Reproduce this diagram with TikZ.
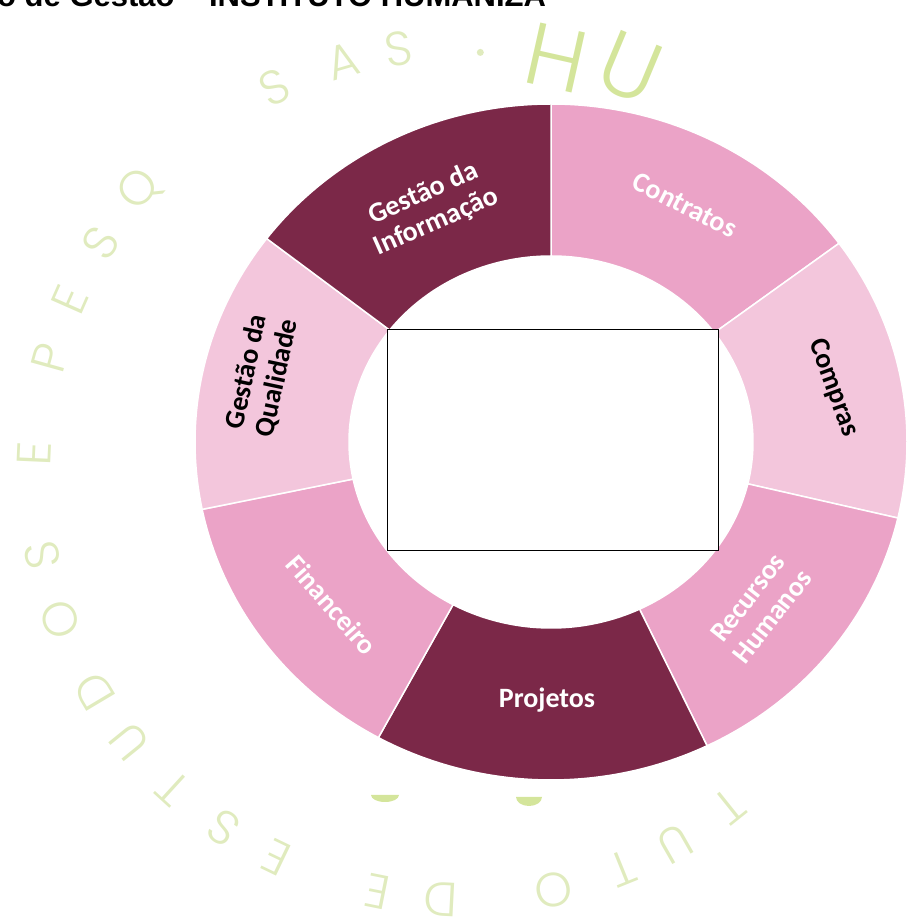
\documentclass[tikz,border=0pt]{standalone}
\usepackage{fontspec}
\setmainfont{Liberation Sans}
\newfontfamily\rotfont{Carlito}
\newfontfamily\wmfont{Poppins}[UprightFont={* Light}]
\usetikzlibrary{positioning}
\definecolor{Vinho}{RGB}{123,40,72}
\definecolor{Rosa}{RGB}{235,163,199}
\definecolor{RosaClaro}{RGB}{243,198,220}
\definecolor{VerdeMarca}{RGB}{212,229,155}
\definecolor{VerdeClaro}{RGB}{224,235,190}

\begin{document}
\begin{tikzpicture}[
  x=1pt, y=1pt,
  fatia/.style={draw=white, line width=1.5pt},
  rotulo/.style={font=\rotfont\bfseries\fontsize{28}{31}\selectfont, align=center, text=white},
  rotuloesc/.style={rotulo, text=black},
  letra/.style={font=\wmfont\fontsize{48}{48}\selectfont, text=VerdeClaro, inner sep=0pt},
  letragrande/.style={letra, font=\wmfont\fontsize{88}{88}\selectfont, text=VerdeMarca}
]
  \useasboundingbox (0,0) rectangle (910,924);

  % titulo (cortado no topo)
  \node[anchor=base west, inner sep=0pt, font=\bfseries\fontsize{31}{31}\selectfont] (titulo) at (-3,917) {o de Gestão – INSTITUTO HUMANIZA};

  % marca d'agua
  \coordinate (marca) at (462,452);
  \foreach \ang/\ch [count=\i] in {308.7/T, 299.8/U, 292.0/T, 282.4/O, 267.1/D, 258.6/E,
      244.3/E, 236.2/S, 227.6/T, 219.0/U, 210.8/D, 200.2/O, 191.2/S, 177.5/E,
      164.5/P, 156.2/E, 147.7/S, 138.8/Q, 116.0/S, 106.2/A, 98.5/S}
    \node[letra, rotate=\ang-90] (wm\i) at ([shift={(marca)}]\ang:428) {\ch};
  \fill[VerdeClaro] ([shift={(marca)}]87.5:420) circle[radius=3.5];
  \node[letragrande, rotate=-12.6] (wmH) at ([shift={(marca)}]77.2:425) {H};
  \node[letragrande, rotate=-22.6] (wmU) at ([shift={(marca)}]67.4:438) {U};
  \fill[VerdeMarca] (371,129) arc[start angle=180, end angle=360, x radius=14, y radius=7] -- cycle;
  \fill[VerdeMarca] (516,127) arc[start angle=180, end angle=360, x radius=13, y radius=9] -- cycle;

  % anel
  \coordinate (meio) at (551,482);
  \foreach \ai/\af/\cor in {36/90/Rosa, -13/36/RosaClaro, -64/-13/Rosa, -119/-64/Vinho,
      -168.5/-119/Rosa, 143/191.5/RosaClaro, 90/143/Vinho}
    \filldraw[fatia, fill=\cor] ([shift={(meio)}]\ai:356 and 338)
      arc[start angle=\ai, end angle=\af, x radius=356, y radius=338]
      -- ([shift={(meio)}]\af:202 and 186)
      arc[start angle=\af, end angle=\ai, x radius=202, y radius=186] -- cycle;

  \node[rotulo, rotate=24] (info) at (430,716) {Gestão da\\Informação};
  \node[rotulo, rotate=-27] (contratos) at (685,719) {Contratos};
  \node[rotuloesc, rotate=-70] (compras) at (833,536) {Compras};
  \node[rotulo, rotate=52] (rh) at (760,317) {Recursos\\Humanos};
  \node[rotulo] (projetos) at (547,224) {Projetos};
  \node[rotulo, rotate=-49] (financeiro) at (332,319) {Financeiro};
  \node[rotuloesc, rotate=78] (qualidade) at (262,549) {Gestão da\\Qualidade};

  \node[draw, fill=white, line width=1pt, inner sep=0pt, minimum width=331pt, minimum height=221pt] (quadro) at (552.5,483.5) {};
\end{tikzpicture}
\end{document}
